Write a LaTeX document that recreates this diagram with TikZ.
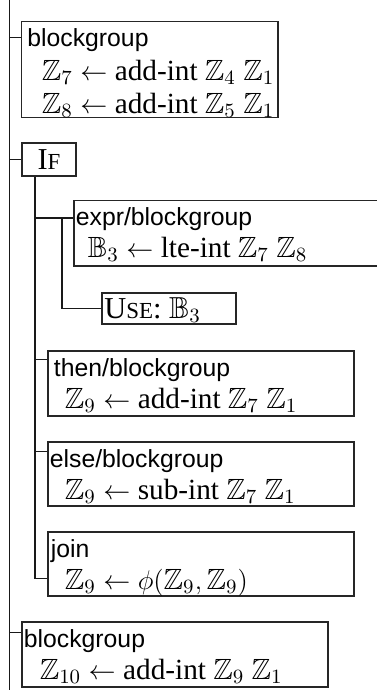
\documentclass[tikz,border=0pt]{standalone}
\usepackage{amssymb}
\usepackage{fontspec}
\setmainfont{Liberation Serif}
\setsansfont{Liberation Sans}
\usetikzlibrary{fit,calc}

\newlength\pxu
\setlength\pxu{0.4444pt}

% faked small capitals: first letter full size, rest reduced
\newcommand\smallcapsword[2]{#1{\fontsize{10.2}{12}\selectfont #2}}

\tikzset{
  box/.style={draw=black!85, line width=0.5pt, inner sep=0pt, rectangle},
  hdr/.style={anchor=base west, inner sep=0pt, font=\sffamily\fontsize{11}{13}\selectfont},
  row/.style={anchor=base west, inner sep=0pt, font=\fontsize{13}{15}\selectfont},
  kw/.style={font=\fontsize{13.5}{15}\selectfont},
  wire/.style={draw=black!90, line width=0.45pt},
}

\begin{document}
\begin{tikzpicture}[x=0.4444pt,y=-0.4444pt]
\useasboundingbox (0,0) rectangle (377,690);

% main spine
\coordinate (spineTop) at (9.5,0);
\coordinate (spineBot) at (9.5,690);
\draw[wire] (spineTop) -- (spineBot);

% first block group
\node[box, fit={(21.5,21.7) (278,117.3)}] (bgA) {};
\node[hdr] (bgAh) at (27,46.7) {blockgroup};
\node[row] (bgAr1) at (41.3,80.5) {$\mathbb{Z}_7 \leftarrow \mbox{add-int}\ \mathbb{Z}_4\ \mathbb{Z}_1$};
\node[row] (bgAr2) at (41.3,113.2) {$\mathbb{Z}_8 \leftarrow \mbox{add-int}\ \mathbb{Z}_5\ \mathbb{Z}_1$};
\coordinate (sA) at (9.5,37.7);
\draw[wire] (sA) -- (sA -| bgA.west);

% if node
\node[box, kw, minimum width=54\pxu, minimum height=33\pxu] (if) at (49,159.5) {\smallcapsword{I}{F}};
\coordinate (sB) at (9.5,159.5);
\draw[wire] (sB) -- (if.west);

% stem below the if node
\coordinate (ifx) at (35,0);

% condition
\node[box, fit={(74,200.7) (379,266)}] (expr) {};
\node[hdr] (exprh) at (75.5,225.7) {expr/blockgroup};
\node[row] (exprr) at (87.3,257.7) {$\mathbb{B}_3 \leftarrow \mbox{lte-int}\ \mathbb{Z}_7\ \mathbb{Z}_8$};
\coordinate (iE) at (35,218);
\coordinate (ex) at (62,218);

% use of the condition
\node[box, fit={(102,293) (236,324)}] (use) {};
\node[row, kw] (uset) at (104,318) {\smallcapsword{U}{SE}: $\mathbb{B}_3$};

% then branch
\node[box, fit={(48,351) (354,416)}] (thn) {};
\node[hdr] (thnh) at (53.5,376) {then/blockgroup};
\node[row] (thnr) at (64.3,408) {$\mathbb{Z}_9 \leftarrow \mbox{add-int}\ \mathbb{Z}_7\ \mathbb{Z}_1$};
\coordinate (iT) at (35,359);

% else branch
\node[box, fit={(48,442) (354,506)}] (els) {};
\node[hdr] (elsh) at (49.5,467) {else/blockgroup};
\node[row] (elsr) at (64.3,499) {$\mathbb{Z}_9 \leftarrow \mbox{sub-int}\ \mathbb{Z}_7\ \mathbb{Z}_1$};
\coordinate (iL) at (35,451);

% join
\node[box, fit={(48,532) (354,596)}] (join) {};
\node[hdr] (joinh) at (50.5,557) {join};
\node[row] (joinr) at (64.3,589) {$\mathbb{Z}_9 \leftarrow \phi(\mathbb{Z}_9, \mathbb{Z}_9)$};
\coordinate (iJ) at (35,578);

% last block group
\node[box, fit={(22,622) (328,687)}] (bgB) {};
\node[hdr] (bgBh) at (23.5,647) {blockgroup};
\node[row] (bgBr) at (39.3,679) {$\mathbb{Z}_{10} \leftarrow \mbox{add-int}\ \mathbb{Z}_9\ \mathbb{Z}_1$};
\coordinate (sC) at (9.5,632);
\draw[wire] (sC) -- (sC -| bgB.west);

% children of the if node
\draw[wire] (if.south -| ifx) -- (iJ) -- (iJ -| join.west);
\draw[wire] (iE) -- (iE -| expr.west);
\draw[wire] (iT) -- (iT -| thn.west);
\draw[wire] (iL) -- (iL -| els.west);
\draw[wire] (ex) -- (ex |- use.west) -- (use.west);
\end{tikzpicture}
\end{document}
